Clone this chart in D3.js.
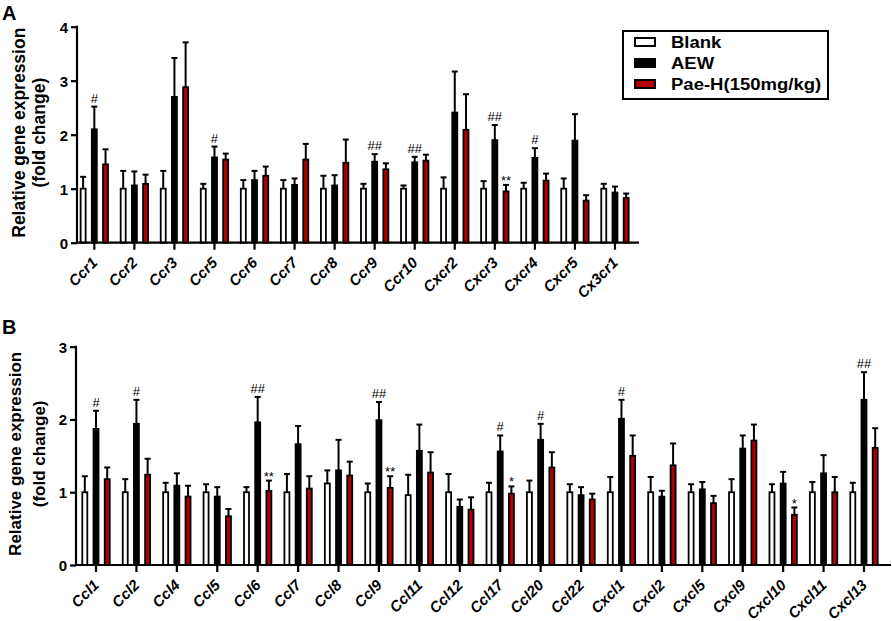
<!DOCTYPE html>
<html>
<head>
<meta charset="utf-8">
<script src="https://cdn.jsdelivr.net/npm/d3@7"></script>
<style>
body{margin:0;background:#fff}
svg text{font-family:'Liberation Sans',Arial,sans-serif;fill:#000}
</style>
</head>
<body>
<svg id="chart" width="892" height="621"></svg>
<script>

// Groups / colors
const groups = ['Blank', 'AEW', 'Pae-H(150mg/kg)']
const groupFills = ['#ffffff', '#000000', '#b00000']

// Panel A - chemokine receptors
const genesA = ['Ccr1','Ccr2','Ccr3','Ccr5','Ccr6','Ccr7','Ccr8','Ccr9','Ccr10','Cxcr2','Cxcr3','Cxcr4','Cxcr5','Cx3cr1']
const blankA    = [1, 1, 1, 1, 1, 1, 1, 1, 1, 1, 1, 1, 1, 1]
const blankErrA = [1.22, 1.33, 1.33, 1.09, 1.16, 1.16, 1.24, 1.09, 1.06, 1.21, 1.14, 1.11, 1.19, 1.09]
const aewA      = [2.10, 1.06, 2.70, 1.58, 1.16, 1.07, 1.06, 1.50, 1.49, 2.41, 1.90, 1.57, 1.89, 0.93]
const aewErrA   = [2.52, 1.32, 3.42, 1.78, 1.33, 1.19, 1.25, 1.64, 1.59, 3.17, 2.18, 1.75, 2.38, 1.04]
const paeA      = [1.45, 1.09, 2.88, 1.54, 1.24, 1.54, 1.48, 1.36, 1.52, 2.09, 0.95, 1.15, 0.78, 0.83]
const paeErrA   = [1.73, 1.26, 3.71, 1.65, 1.41, 1.83, 1.91, 1.47, 1.63, 2.75, 1.07, 1.28, 0.88, 0.91]
const aewSigA   = ['#','','','#','','','','##','##','','##','#','','']
const paeSigA   = ['','','','','','','','','','','**','','','']
const yTicksA   = [0, 1, 2, 3, 4]

// Panel B - chemokines
const genesB = ['Ccl1','Ccl2','Ccl4','Ccl5','Ccl6','Ccl7','Ccl8','Ccl9','Ccl11','Ccl12','Ccl17','Ccl20','Ccl22','Cxcl1','Cxcl2','Cxcl5','Cxcl9','Cxcl10','Cxcl11','Cxcl13']
const blankB    = [1, 1, 1, 1, 1, 1, 1.12, 1, 0.96, 1, 1, 1, 1, 1, 1, 1, 1, 1, 1, 1]
const blankErrB = [1.22, 1.18, 1.13, 1.11, 1.07, 1.25, 1.30, 1.12, 1.24, 1.25, 1.13, 1.16, 1.11, 1.21, 1.21, 1.11, 1.18, 1.11, 1.14, 1.13]
const aewB      = [1.87, 1.94, 1.09, 0.94, 1.96, 1.66, 1.30, 1.99, 1.57, 0.80, 1.56, 1.72, 0.96, 2.01, 0.94, 1.04, 1.60, 1.12, 1.26, 2.27]
const aewErrB   = [2.12, 2.27, 1.26, 1.07, 2.31, 1.91, 1.72, 2.24, 1.93, 0.90, 1.78, 1.94, 1.07, 2.27, 1.02, 1.14, 1.78, 1.28, 1.51, 2.65]
const paeB      = [1.18, 1.24, 0.94, 0.67, 1.02, 1.05, 1.23, 1.06, 1.27, 0.76, 0.98, 1.34, 0.90, 1.50, 1.37, 0.85, 1.71, 0.69, 1.00, 1.61]
const paeErrB   = [1.34, 1.46, 1.09, 0.77, 1.16, 1.22, 1.42, 1.22, 1.55, 0.93, 1.08, 1.55, 0.98, 1.78, 1.67, 0.95, 1.93, 0.79, 1.21, 1.88]
const aewSigB   = ['#','#','','','##','','','##','','','#','#','','#','','','','','','##']
const paeSigB   = ['','','','','**','','','**','','','*','','','','','','','*','','']
const yTicksB   = [0, 1, 2, 3]

const yTitle1 = 'Relative gene expression'
const yTitle2 = '(fold change)'

const svg = d3.select('#chart')


// Draw one bar panel
function createBarPanel(cfg){

    const g = svg.append('g')

    // Scales
    const xScale = d3.scaleBand().domain(cfg.genes).range(cfg.xRange)
    const yScale = d3.scaleLinear().domain([0, d3.max(cfg.yTicks)]).range(cfg.yRange)
    const offset = d3.scalePoint().domain(groups).range([-11.2, 11.2])
    const barW = 5
    const yZero = yScale(0)

    // Flatten the series
    const series = [
        {values: cfg.blank, errs: cfg.blankErr, sig: cfg.genes.map(()=>'')},
        {values: cfg.aew, errs: cfg.aewErr, sig: cfg.aewSig},
        {values: cfg.pae, errs: cfg.paeErr, sig: cfg.paeSig}
    ]
    const rows = []
    cfg.genes.forEach((gene, i)=>{
        series.forEach((s, k)=>{
            rows.push({
                cx: xScale(gene) + xScale.bandwidth()/2 + offset(groups[k]),
                value: s.values[i],
                err: s.errs[i],
                sig: s.sig[i],
                fill: groupFills[k]
            })
        })
    })

    // Error bars (drawn first so bar outline sits on top)
    g.selectAll('.err')
        .data(rows)
        .enter()
        .append('line')
        .attr('x1', d=>d.cx).attr('x2', d=>d.cx)
        .attr('y1', d=>yScale(d.value)).attr('y2', d=>yScale(d.err))
        .style('stroke', '#000').style('stroke-width', 2)

    g.selectAll('.cap')
        .data(rows)
        .enter()
        .append('line')
        .attr('x1', d=>d.cx-3).attr('x2', d=>d.cx+3)
        .attr('y1', d=>yScale(d.err)).attr('y2', d=>yScale(d.err))
        .style('stroke', '#000').style('stroke-width', 2)

    // Bars
    g.selectAll('.bar')
        .data(rows)
        .enter()
        .append('rect')
        .attr('x', d=>d.cx - barW/2)
        .attr('y', d=>yScale(d.value))
        .attr('width', barW)
        .attr('height', d=>yZero - yScale(d.value))
        .style('fill', d=>d.fill)
        .style('stroke', '#000')
        .style('stroke-width', 1.8)

    // Significance marks
    g.selectAll('.sig')
        .data(rows.filter(d=>d.sig))
        .enter()
        .append('text')
        .attr('x', d=>d.cx)
        .attr('y', d=>yScale(d.err) - (d.sig.includes('#') ? 4 : 0))
        .attr('text-anchor', 'middle')
        .style('font-size', '13px')
        .text(d=>d.sig)

    // Y axis
    const yAxis = d3.axisLeft(yScale)
        .tickValues(cfg.yTicks)
        .tickFormat(d3.format('d'))
        .tickSize(6)
        .tickSizeOuter(0)
        .tickPadding(3)

    const yG = g.append('g')
        .attr('transform', 'translate(' + cfg.axisX + ',0)')
        .call(yAxis)
    yG.select('.domain').attr('d', 'M0,' + (yZero+1) + 'V' + (yScale(d3.max(cfg.yTicks))-1))
    yG.selectAll('path, line').style('stroke', '#000').style('stroke-width', 2.2)
    yG.selectAll('text')
        .style('font-size', '15px')
        .style('font-weight', 'bold')
        .attr('dy', '0.36em')

    // X axis
    const xAxis = d3.axisBottom(xScale)
        .tickSize(7)
        .tickSizeOuter(0)
        .tickFormat('')

    const xG = g.append('g')
        .attr('transform', 'translate(0,' + yZero + ')')
        .call(xAxis)
    xG.select('.domain').attr('d', 'M' + cfg.axisX + ',0H' + cfg.axisEnd)
    xG.selectAll('path, line').style('stroke', '#000').style('stroke-width', 2.2)

    // X labels
    g.selectAll('.xlabel')
        .data(cfg.genes)
        .enter()
        .append('text')
        .attr('text-anchor', 'end')
        .attr('transform', d=>'translate(' + (xScale(d) + xScale.bandwidth()/2 + 4) + ',' + (yZero + 21) + ') rotate(-45)')
        .style('font-size', '15px')
        .style('font-weight', 'bold')
        .style('font-style', 'italic')
        .text(d=>d)

    // Y title
    const yMid = (cfg.yRange[0] + cfg.yRange[1]) / 2 - 2
    g.append('text')
        .attr('text-anchor', 'middle')
        .attr('transform', 'translate(' + cfg.titleX[0] + ',' + yMid + ') rotate(-90)')
        .style('font-size', cfg.titleSize + 'px')
        .style('font-weight', 'bold')
        .text(yTitle1)
    g.append('text')
        .attr('text-anchor', 'middle')
        .attr('transform', 'translate(' + cfg.titleX[1] + ',' + yMid + ') rotate(-90)')
        .style('font-size', cfg.titleSize + 'px')
        .style('font-weight', 'bold')
        .text(yTitle2)

    // Panel letter
    g.append('text')
        .attr('x', 2).attr('y', cfg.letterY)
        .style('font-size', '20px')
        .style('font-weight', 'bold')
        .text(cfg.letter)
}


// Legend
function createLegend(x, y){

    const g = svg.append('g').attr('transform', 'translate(' + x + ',' + y + ')')

    g.append('rect')
        .attr('width', 205).attr('height', 68)
        .style('fill', 'none').style('stroke', '#000').style('stroke-width', 2)

    const items = g.selectAll('.item')
        .data(groups)
        .enter()
        .append('g')
        .attr('transform', (_, i)=>'translate(12,' + (11 + i*21) + ')')

    items.append('rect')
        .attr('width', 20).attr('height', 8).attr('y', -4)
        .style('fill', (_, i)=>groupFills[i])
        .style('stroke', '#000').style('stroke-width', 2)

    items.append('text')
        .attr('transform', 'translate(36,6) scale(1.09,1)')
        .style('font-size', '17px')
        .style('font-weight', 'bold')
        .text(d=>d)
}


createBarPanel({
    letter: 'A', letterY: 20,
    genes: genesA,
    blank: blankA, blankErr: blankErrA,
    aew: aewA, aewErr: aewErrA, aewSig: aewSigA,
    pae: paeA, paeErr: paeErrA, paeSig: paeSigA,
    yTicks: yTicksA,
    xRange: [74.3, 635],
    yRange: [242.7, 26.7],
    axisX: 77, axisEnd: 639,
    titleX: [25, 45], titleSize: 17.5
})

createBarPanel({
    letter: 'B', letterY: 334,
    genes: genesB,
    blank: blankB, blankErr: blankErrB,
    aew: aewB, aewErr: aewErrB, aewSig: aewSigB,
    pae: paeB, paeErr: paeErrB, paeSig: paeSigB,
    yTicks: yTicksB,
    xRange: [75.8, 884.2],
    yRange: [565, 346.7],
    axisX: 76, axisEnd: 891,
    titleX: [21, 45], titleSize: 17
})

createLegend(623, 31)

</script>
</body>
</html>
